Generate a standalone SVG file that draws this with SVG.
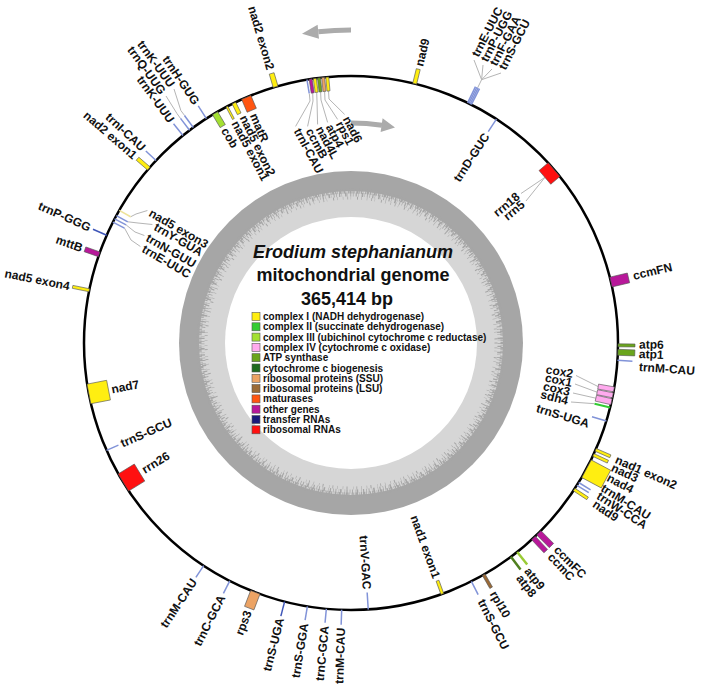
<svg xmlns="http://www.w3.org/2000/svg" width="706" height="689" viewBox="0 0 706 689">
<style>
.lb{font-family:"Liberation Sans",Arial,Helvetica,sans-serif;font-weight:bold;font-size:12px;fill:#111;dominant-baseline:central}
.e{text-anchor:end}
.t{stroke:#8193d8;stroke-width:1.5}
.t2{stroke:#3f56b8;stroke-width:1.5}
.c{fill:none;stroke:#b5b5b5;stroke-width:1}
.g{stroke:#555;stroke-width:.6}
.n1{fill:#ffee11}
.n2{fill:#33cc33}
.n3{fill:#a3e032}
.n4{fill:#ffaaee}
.at{fill:#6aa51c}
.cb{fill:#1e6b1e}
.ss{fill:#eca364}
.ls{fill:#9b6a36}
.mt{fill:#ff5511}
.ot{fill:#b8189a}
.tr{fill:#1a1a7a}
.rr{fill:#ff1010}
.leg{font-family:"Liberation Sans",Arial,sans-serif;font-weight:bold;font-size:10px;fill:#111}
.ttl{font-family:"Liberation Sans",Arial,sans-serif;font-weight:bold;font-size:18px;fill:#111;text-anchor:middle}
</style>
<rect width="706" height="689" fill="#fff"/>

<g id="gc-ring">
<circle cx="351" cy="343" r="172" fill="#a6a6a6"/>
<circle cx="351" cy="343" r="152" fill="#d6d6d6"/>
<circle cx="351" cy="343" r="152" fill="none" stroke="#a6a6a6" stroke-width="5" stroke-dasharray="1.2 0.8 0.6 1.4 2 0.5 0.8 1.1 1.5 0.7 0.4 1.8 1 0.6 2.2 0.9"/>
<circle cx="351" cy="343" r="148.5" fill="none" stroke="#a6a6a6" stroke-width="4" stroke-dasharray="0.7 2.1 1.2 1.3 0.5 3 1.6 0.9 0.4 2.4 0.9 1.7"/>
<circle cx="351" cy="343" r="145" fill="none" stroke="#a6a6a6" stroke-width="3" stroke-dasharray="0.5 4 0.8 2.6 0.4 6 1 3.3 0.5 5"/>
<circle cx="351" cy="343" r="126" fill="#fff"/>
</g>

<g id="title">
<text class="ttl" x="353" y="258" font-style="italic">Erodium stephanianum</text>
<text class="ttl" x="353" y="281">mitochondrial genome</text>
<text class="ttl" x="347" y="305">365,414 bp</text>
</g>

<g id="legend" class="leg">
<rect class="g n1" x="252" y="312.5" width="8" height="8"/><text x="263" y="320">complex I (NADH dehydrogenase)</text>
<rect class="g n2" x="252" y="322.8" width="8" height="8"/><text x="263" y="330.3">complex II (succinate dehydrogenase)</text>
<rect class="g n3" x="252" y="333.1" width="8" height="8"/><text x="263" y="340.6">complex III (ubichinol cytochrome c reductase)</text>
<rect class="g n4" x="252" y="343.4" width="8" height="8"/><text x="263" y="350.9">complex IV (cytochrome c oxidase)</text>
<rect class="g at" x="252" y="353.7" width="8" height="8"/><text x="263" y="361.2">ATP synthase</text>
<rect class="g cb" x="252" y="364" width="8" height="8"/><text x="263" y="371.5">cytochrome c biogenesis</text>
<rect class="g ss" x="252" y="374.3" width="8" height="8"/><text x="263" y="381.8">ribosomal proteins (SSU)</text>
<rect class="g ls" x="252" y="384.6" width="8" height="8"/><text x="263" y="392.1">ribosomal proteins (LSU)</text>
<rect class="g mt" x="252" y="394.9" width="8" height="8"/><text x="263" y="402.4">maturases</text>
<rect class="g ot" x="252" y="405.2" width="8" height="8"/><text x="263" y="412.7">other genes</text>
<rect class="g tr" x="252" y="415.5" width="8" height="8"/><text x="263" y="423">transfer RNAs</text>
<rect class="g rr" x="252" y="425.8" width="8" height="8"/><text x="263" y="433.3">ribosomal RNAs</text>
</g>

<g id="strand-arrows" fill="#ababab">
<path d="M351 30 A313 313 0 0 0 318.3 31.7" fill="none" stroke="#ababab" stroke-width="5"/>
<polygon points="302,33.8 317.6,24.8 319,38.7"/>
<path d="M351 123 A220 220 0 0 1 382 125.2" fill="none" stroke="#ababab" stroke-width="5"/>
<polygon points="395,127.4 382.6,118.2 380.6,132.1"/>
</g>

<circle id="genome" cx="351" cy="343" r="267" fill="none" stroke="#000" stroke-width="2.5"/>

<g id="connectors" class="c">
<polyline points="477.7,87.7 481.6,79.7 474,60"/>
<polyline points="481.6,79.7 483,65"/>
<polyline points="481.6,79.7 492,69"/>
<polyline points="481.6,79.7 501,73"/>
<polyline points="544.9,177.4 521,193.5"/>
<polyline points="544.9,177.4 526,201"/>
<polyline points="598.2,386.6 576,375.5"/>
<polyline points="597.1,392.2 575,384"/>
<polyline points="595.9,398.2 573,393"/>
<polyline points="594.5,403.7 571,402"/>
<polyline points="309.3,93.5 310,101 295.6,126.4"/>
<polyline points="312.7,92.9 313,101 307.6,126.4"/>
<polyline points="316.7,92.4 317,101 317.6,124.4"/>
<polyline points="320.6,91.8 321,100 327.6,122.4"/>
<polyline points="324.6,91.4 325,100 337.6,119.4"/>
<polyline points="328.5,91 329,99 344.6,114.4"/>
<polyline points="180.5,118.4 177,113.6 166,96"/>
<polyline points="184.5,115.4 180.9,110.6 174,89"/>
<polyline points="130.6,216.8 136,214 147.4,210.5"/>
<polyline points="127.8,221.8 138,223 152.4,224.5"/>
<polyline points="126.1,224.9 135,232 144.4,235.5"/>
<polyline points="124.5,228.1 131,240 140.4,246.5"/>
</g>

<!-- outside genes -->
<g id="nad2-exon2"><rect class="g n1" x="348.5" y="62" width="5" height="14" transform="rotate(-16.4 351 343)"/><text class="lb e" x="270.5" y="69.6" transform="rotate(73.6 270.5 69.6)">nad2 exon2</text></g>
<g id="nad9-a"><rect class="g n1" x="349" y="61" width="4" height="15" transform="rotate(13.8 351 343)"/><text class="lb" x="419" y="66" transform="rotate(-76.2 419 66)">nad9</text></g>
<g id="trnE-UUC-a"><line class="t" x1="351" y1="76" x2="351" y2="58" transform="rotate(25.9 351 343)"/><text class="lb" x="475" y="56" transform="rotate(-63 475 56)">trnE-UUC</text></g>
<g id="trnP-UGG"><line class="t" x1="351" y1="76" x2="351" y2="58" transform="rotate(26.2 351 343)"/><text class="lb" x="484" y="61" transform="rotate(-63 484 61)">trnP-UGG</text></g>
<g id="trnF-GAA"><line class="t" x1="351" y1="76" x2="351" y2="58" transform="rotate(26.5 351 343)"/><text class="lb" x="493" y="65" transform="rotate(-63 493 65)">trnF-GAA</text></g>
<g id="trnS-GCU-a"><line class="t" x1="351" y1="76" x2="351" y2="58" transform="rotate(26.8 351 343)"/><text class="lb" x="502" y="69" transform="rotate(-63 502 69)">trnS-GCU</text></g>
<g id="ccmFN"><rect class="g ot" x="346" y="58" width="10" height="18" transform="rotate(76.8 351 343)"/><text class="lb" x="633" y="276" transform="rotate(-13.2 633 276)">ccmFN</text></g>
<g id="atp6"><rect class="g at" x="349.5" y="59" width="3" height="17" transform="rotate(90.5 351 343)"/><text class="lb" x="639" y="344.5" transform="rotate(0.5 639 344.5)">atp6</text></g>
<g id="atp1"><rect class="g at" x="348" y="59" width="6" height="17" transform="rotate(92 351 343)"/><text class="lb" x="639" y="354" transform="rotate(2 639 354)">atp1</text></g>
<g id="trnM-CAU-a"><line class="t" x1="351" y1="76" x2="351" y2="61" transform="rotate(93.7 351 343)"/><text class="lb" x="639" y="367" transform="rotate(4 639 367)">trnM-CAU</text></g>
<g id="nad1-exon2"><rect class="g n1" x="349.5" y="60" width="3" height="16" transform="rotate(113.6 351 343)"/><text class="lb" x="616" y="459" transform="rotate(24 616 459)">nad1 exon2</text></g>
<g id="nad3"><rect class="g n1" x="349.5" y="60" width="3" height="16" transform="rotate(114.8 351 343)"/><text class="lb" x="612" y="467" transform="rotate(25 612 467)">nad3</text></g>
<g id="nad4"><rect class="g n1" x="341" y="54" width="20" height="22" transform="rotate(118.1 351 343)"/><text class="lb" x="608" y="477" transform="rotate(28 608 477)">nad4</text></g>
<g id="trnM-CAU-b"><line class="t" x1="351" y1="76" x2="351" y2="62" transform="rotate(121.5 351 343)"/><text class="lb" x="602" y="487" transform="rotate(32 602 487)">trnM-CAU</text></g>
<g id="trnW-CCA"><line class="t" x1="351" y1="76" x2="351" y2="62" transform="rotate(122.2 351 343)"/><text class="lb" x="598" y="495" transform="rotate(33 598 495)">trnW-CCA</text></g>
<g id="nad9-b"><rect class="g n1" x="349.5" y="60" width="3" height="16" transform="rotate(123.3 351 343)"/><text class="lb" x="594" y="503" transform="rotate(34 594 503)">nad9</text></g>
<g id="ccmFC"><rect class="g ot" x="348" y="58" width="6" height="18" transform="rotate(135.3 351 343)"/><text class="lb" x="556" y="548" transform="rotate(45 556 548)">ccmFC</text></g>
<g id="ccmC"><rect class="g ot" x="348.5" y="58" width="5" height="18" transform="rotate(136.9 351 343)"/><text class="lb" x="550" y="555" transform="rotate(47 550 555)">ccmC</text></g>
<g id="atp9"><line x1="351" y1="76" x2="351" y2="60" stroke="#9acb35" stroke-width="2.5" transform="rotate(141.5 351 343)"/><text class="lb" x="527" y="569" transform="rotate(51.5 527 569)">atp9</text></g>
<g id="atp8"><line x1="351" y1="76" x2="351" y2="60" stroke="#4f7f1f" stroke-width="2.5" transform="rotate(143.2 351 343)"/><text class="lb" x="519" y="576" transform="rotate(53.2 519 576)">atp8</text></g>
<g id="rpl10"><rect class="g ls" x="349.5" y="61" width="3" height="15" transform="rotate(150.2 351 343)"/><text class="lb" x="493" y="592" transform="rotate(60.2 493 592)">rpl10</text></g>
<g id="trnS-GCU-b"><line class="t" x1="351" y1="76" x2="351" y2="61" transform="rotate(153.2 351 343)"/><text class="lb" x="481" y="600" transform="rotate(63.2 481 600)">trnS-GCU</text></g>
<g id="trnM-CAU-c"><line class="t" x1="351" y1="76" x2="351" y2="61" transform="rotate(182 351 343)"/><text class="lb e" x="341.1" y="627.8" transform="rotate(-88 341.1 627.8)">trnM-CAU</text></g>
<g id="trnC-GCA-a"><line class="t" x1="351" y1="76" x2="351" y2="62" transform="rotate(185.3 351 343)"/><text class="lb e" x="324.8" y="625.8" transform="rotate(-84.7 324.8 625.8)">trnC-GCA</text></g>
<g id="trnS-GGA"><line class="t" x1="351" y1="76" x2="351" y2="62" transform="rotate(189.4 351 343)"/><text class="lb e" x="304.6" y="623.2" transform="rotate(-80.6 304.6 623.2)">trnS-GGA</text></g>
<g id="trnS-UGA-a"><line class="t2" x1="351" y1="76" x2="351" y2="61" transform="rotate(194.4 351 343)"/><text class="lb e" x="280.4" y="618.1" transform="rotate(-75.6 280.4 618.1)">trnS-UGA</text></g>
<g id="rps3"><rect class="g ss" x="346" y="59" width="10" height="17" transform="rotate(201 351 343)"/><text class="lb e" x="248.1" y="611" transform="rotate(-69 248.1 611)">rps3</text></g>
<g id="trnC-GCA-b"><line class="t" x1="351" y1="76" x2="351" y2="62" transform="rotate(207 351 343)"/><text class="lb e" x="222.1" y="596" transform="rotate(-63 222.1 596)">trnC-GCA</text></g>
<g id="trnM-CAU-d"><line class="t" x1="351" y1="76" x2="351" y2="62" transform="rotate(213.5 351 343)"/><text class="lb e" x="194.2" y="579.8" transform="rotate(-56.5 194.2 579.8)">trnM-CAU</text></g>
<g id="nad5-exon4"><rect class="g n1" x="349.5" y="59" width="3" height="17" transform="rotate(281.4 351 343)"/><text class="lb e" x="69.6" y="286.3" transform="rotate(11.4 69.6 286.3)">nad5 exon4</text></g>
<g id="mttB"><rect class="g ot" x="348.5" y="61" width="5" height="15" transform="rotate(289.4 351 343)"/><text class="lb e" x="82.2" y="248.3" transform="rotate(19.4 82.2 248.3)">mttB</text></g>
<g id="trnP-GGG"><line class="t2" x1="351" y1="76" x2="351" y2="61" transform="rotate(293.8 351 343)"/><text class="lb e" x="90.2" y="228" transform="rotate(23.8 90.2 228)">trnP-GGG</text></g>
<g id="nad2-exon1"><rect class="g n1" x="349" y="61" width="4" height="15" transform="rotate(310.8 351 343)"/><text class="lb e" x="135.2" y="156.8" transform="rotate(40.8 135.2 156.8)">nad2 exon1</text></g>
<g id="trnI-CAU-a"><line class="t" x1="351" y1="76" x2="351" y2="62" transform="rotate(313.1 351 343)"/><text class="lb e" x="143.6" y="149" transform="rotate(43.1 143.6 149)">trnI-CAU</text></g>
<g id="trnK-UUU-b"><line class="t" x1="351" y1="76" x2="351" y2="61" transform="rotate(321 351 343)"/><text class="lb e" x="171.6" y="121.5" transform="rotate(54 171.6 121.5)">trnK-UUU</text></g>
<g id="trnQ-UUG"><line class="t" x1="351" y1="76" x2="351" y2="61" transform="rotate(322.8 351 343)"/><text class="lb e" x="163" y="93" transform="rotate(54 163 93)">trnQ-UUG</text></g>
<g id="trnK-UUU-a"><line class="t" x1="351" y1="76" x2="351" y2="61" transform="rotate(323.8 351 343)"/><text class="lb e" x="172" y="86" transform="rotate(54 172 86)">trnK-UUU</text></g>
<g id="trnH-GUG"><line class="t" x1="351" y1="76" x2="351" y2="61" transform="rotate(327.2 351 343)"/><text class="lb e" x="196.6" y="103.4" transform="rotate(56 196.6 103.4)">trnH-GUG</text></g>

<!-- inside genes -->
<g id="trnI-CAU-b"><line class="t" x1="351" y1="76" x2="351" y2="90" transform="rotate(-9.5 351 343)"/><text class="lb" x="297" y="129" transform="rotate(62 297 129)">trnI-CAU</text></g>
<g id="ccmB"><rect class="g ot" x="349.5" y="76" width="3" height="14" transform="rotate(-8.7 351 343)"/><text class="lb" x="309" y="129" transform="rotate(62 309 129)">ccmB</text></g>
<g id="nad4L"><rect class="g n1" x="349.5" y="76" width="3" height="14" transform="rotate(-7.8 351 343)"/><text class="lb" x="319" y="127" transform="rotate(62 319 127)">nad4L</text></g>
<g id="atp4"><rect class="g at" x="349.5" y="76" width="3" height="14" transform="rotate(-6.9 351 343)"/><text class="lb" x="329" y="125" transform="rotate(62 329 125)">atp4</text></g>
<g id="rps1"><rect class="g ss" x="349.5" y="76" width="3" height="14" transform="rotate(-6 351 343)"/><text class="lb" x="339" y="122" transform="rotate(62 339 122)">rps1</text></g>
<g id="nad6"><rect class="g n1" x="349.5" y="76" width="3" height="14" transform="rotate(-5.1 351 343)"/><text class="lb" x="346" y="117" transform="rotate(62 346 117)">nad6</text></g>
<g id="trnD-GUC"><line class="t" x1="351" y1="76" x2="351" y2="91" transform="rotate(33 351 343)"/><text class="lb e" x="486.6" y="134.2" transform="rotate(-57 486.6 134.2)">trnD-GUC</text></g>
<g id="rrn18"><rect class="g rr" x="342" y="76" width="18" height="12" transform="rotate(49.5 351 343)"/><text class="lb e" x="518" y="195" transform="rotate(-40 518 195)">rrn18</text></g>
<g id="rrn5"><rect class="rr" x="349" y="77" width="3" height="10" transform="rotate(50.3 351 343)"/><text class="lb e" x="523" y="203" transform="rotate(-40 523 203)">rrn5</text></g>
<g id="cox2"><rect class="g n4" x="348.5" y="76" width="5" height="16" transform="rotate(100 351 343)"/><text class="lb e" x="573" y="374" transform="rotate(10 573 374)">cox2</text></g>
<g id="cox1"><rect class="g n4" x="348.5" y="76" width="5" height="16" transform="rotate(101.3 351 343)"/><text class="lb e" x="572" y="383" transform="rotate(11.3 572 383)">cox1</text></g>
<g id="cox3"><rect class="g n4" x="348" y="76" width="6" height="16" transform="rotate(102.7 351 343)"/><text class="lb e" x="570" y="392" transform="rotate(12.7 570 392)">cox3</text></g>
<g id="sdh4"><rect class="n2" x="350" y="76" width="2" height="16" transform="rotate(104 351 343)"/><text class="lb e" x="568" y="401" transform="rotate(14 568 401)">sdh4</text></g>
<g id="trnS-UGA-b"><line class="t" x1="351" y1="76" x2="351" y2="91" transform="rotate(107 351 343)"/><text class="lb e" x="589" y="424" transform="rotate(17 589 424)">trnS-UGA</text></g>
<g id="nad1-exon1"><rect class="g n1" x="349.5" y="76" width="3" height="14" transform="rotate(160 351 343)"/><text class="lb e" x="436.5" y="577.9" transform="rotate(70 436.5 577.9)">nad1 exon1</text></g>
<g id="trnV-GAC"><line class="t" x1="351" y1="76" x2="351" y2="93" transform="rotate(176.3 351 343)"/><text class="lb e" x="366.9" y="589.5" transform="rotate(86.3 366.9 589.5)">trnV-GAC</text></g>
<g id="rrn26"><rect class="g rr" x="341" y="76" width="20" height="19" transform="rotate(238.5 351 343)"/><text class="lb" x="143" y="470.5" transform="rotate(-31.5 143 470.5)">rrn26</text></g>
<g id="trnS-GCU-c"><line class="t" x1="351" y1="76" x2="351" y2="89" transform="rotate(246.3 351 343)"/><text class="lb" x="121.2" y="443.9" transform="rotate(-23.7 121.2 443.9)">trnS-GCU</text></g>
<g id="nad7"><rect class="g n1" x="341" y="76" width="20" height="20" transform="rotate(259 351 343)"/><text class="lb" x="111.5" y="389.6" transform="rotate(-11 111.5 389.6)">nad7</text></g>
<g id="nad5-exon3"><line x1="351" y1="76" x2="351" y2="89" stroke="#eee39a" stroke-width="1.5" transform="rotate(299.8 351 343)"/><text class="lb" x="150" y="212" transform="rotate(30 150 212)">nad5 exon3</text></g>
<g id="trnY-GUA"><line class="t" x1="351" y1="76" x2="351" y2="89" transform="rotate(298.5 351 343)"/><text class="lb" x="155" y="226" transform="rotate(30 155 226)">trnY-GUA</text></g>
<g id="trnN-GUU"><line class="t" x1="351" y1="76" x2="351" y2="89" transform="rotate(297.7 351 343)"/><text class="lb" x="147" y="237" transform="rotate(30 147 237)">trnN-GUU</text></g>
<g id="trnE-UUC-b"><line class="t" x1="351" y1="76" x2="351" y2="89" transform="rotate(296.9 351 343)"/><text class="lb" x="143" y="248" transform="rotate(30 143 248)">trnE-UUC</text></g>
<g id="cob"><rect class="g n3" x="348" y="76" width="6" height="15" transform="rotate(329.4 351 343)"/><text class="lb" x="224.3" y="128.7" transform="rotate(59.4 224.3 128.7)">cob</text></g>
<g id="nad5-exon1"><rect class="g n1" x="350" y="76" width="2" height="14" transform="rotate(332.3 351 343)"/><text class="lb" x="234.8" y="121.7" transform="rotate(62.3 234.8 121.7)">nad5 exon1</text></g>
<g id="nad5-exon2"><rect class="g n1" x="349" y="76" width="4" height="12" transform="rotate(334 351 343)"/><text class="lb" x="243" y="116" transform="rotate(64 243 116)">nad5 exon2</text></g>
<g id="matR"><rect class="g mt" x="346" y="76" width="10" height="14" transform="rotate(336.9 351 343)"/><text class="lb" x="253.3" y="113.9" transform="rotate(66.9 253.3 113.9)">matR</text></g>
</svg>
